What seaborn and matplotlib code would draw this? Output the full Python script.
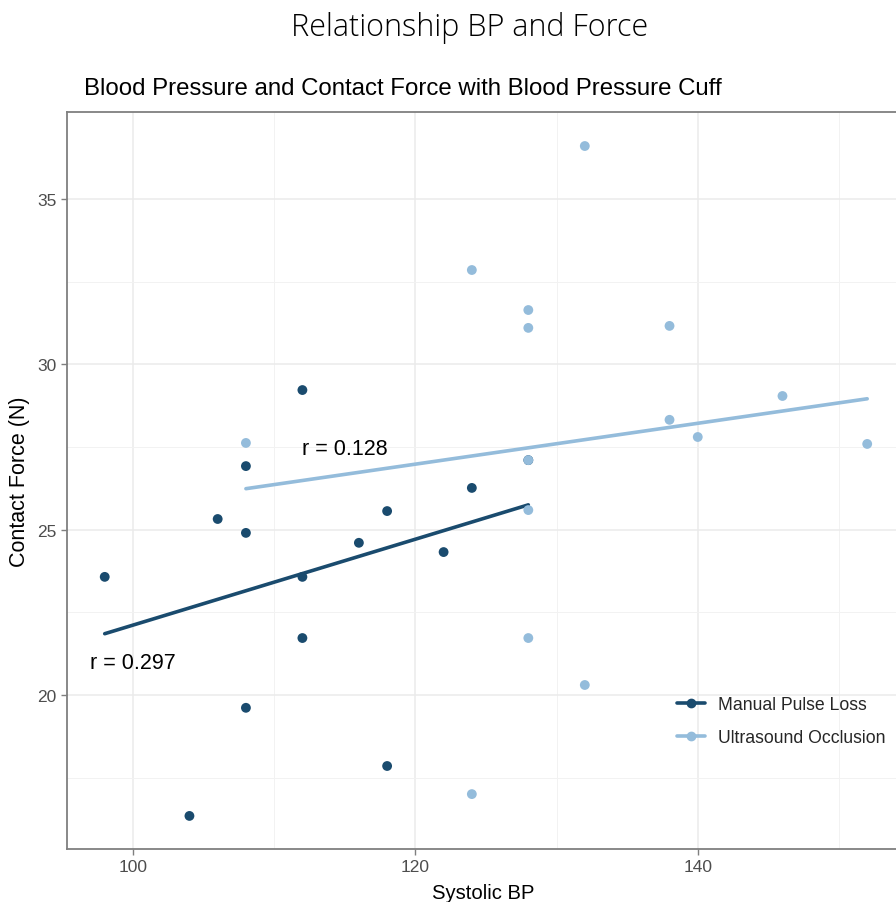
import numpy as np
import pandas as pd
import matplotlib
matplotlib.use("Agg")
import matplotlib.pyplot as plt
import seaborn as sns
from matplotlib.lines import Line2D

# Manual Pulse Loss
manual_bp = [98, 104, 106, 108, 108, 108, 112, 112, 112, 116, 118, 118, 122, 124, 128]
manual_force = [23.57, 16.34, 25.32, 26.92, 24.90, 19.61, 29.22, 23.57, 21.72, 24.60,
                25.56, 17.85, 24.32, 26.26, 27.10]

# Ultrasound Occlusion
us_bp = [108, 124, 124, 128, 128, 128, 128, 128, 132, 132, 138, 138, 140, 146, 152]
us_force = [27.62, 32.85, 17.00, 31.64, 31.10, 27.10, 25.59, 21.72, 36.60, 20.30,
            31.16, 28.32, 27.80, 29.04, 27.59]

groups = ["Manual Pulse Loss", "Ultrasound Occlusion"]
colors = {"Manual Pulse Loss": "#1a4b6e", "Ultrasound Occlusion": "#94bcdb"}

df = pd.DataFrame({
    "bp": manual_bp + us_bp,
    "force": manual_force + us_force,
    "method": [groups[0]] * len(manual_bp) + [groups[1]] * len(us_bp),
})

sns.set_theme(style="white")
plt.rcParams["font.family"] = ["Liberation Sans", "DejaVu Sans"]

fig = plt.figure(figsize=(8.96, 9.03), dpi=100)
ax = fig.add_axes([0.0748, 0.0587, 0.93, 0.8162])

# panel runs off the right edge of the picture
ax.set_xlim(95.33, 95.33 + 0.93 * 896 / 14.12)
ax.set_ylim(15.34, 37.63)
ax.set_xticks([100, 120, 140])
ax.set_xticks([110, 130, 150], minor=True)
ax.set_yticks([20, 25, 30, 35])
ax.set_yticks([17.5, 22.5, 27.5, 32.5], minor=True)
ax.grid(True, which="major", color="#ebebeb", linewidth=1.1)
ax.grid(True, which="minor", color="#f2f2f2", linewidth=0.7)
ax.set_axisbelow(True)

for name in groups:
    sub = df[df["method"] == name]
    sns.regplot(data=sub, x="bp", y="force", ci=None, scatter=False, ax=ax,
                line_kws={"color": colors[name], "linewidth": 2.6})
for name in groups:
    sub = df[df["method"] == name]
    sns.scatterplot(data=sub, x="bp", y="force", color=colors[name], s=50,
                    edgecolor="none", ax=ax, zorder=3)

ax.text(96.95, 20.97, "r = 0.297", fontsize=15.5, va="center", ha="left", color="black")
ax.text(112.0, 27.44, "r = 0.128", fontsize=15.5, va="center", ha="left", color="black")

for s in ["left", "bottom", "top"]:
    ax.spines[s].set_color("#7f7f7f")
    ax.spines[s].set_linewidth(1.3)
ax.spines["right"].set_visible(False)

ax.tick_params(axis="both", which="major", length=4, width=1, color="#7f7f7f",
               labelsize=12.5, labelcolor="#4d4d4d", bottom=True, left=True)
ax.tick_params(axis="both", which="minor", length=0)

ax.set_xlabel("Systolic BP", fontsize=14.6, color="black", labelpad=6)
ax.set_ylabel("Contact Force (N)", fontsize=15.5, color="black", labelpad=5)

handles = [Line2D([0], [0], color=colors[g], linewidth=2.6, marker="o", markersize=6)
           for g in groups]
ax.legend(handles, groups, loc="upper left", bbox_to_anchor=(0.732, 0.207),
          frameon=False, fontsize=12.7, handlelength=1.6, handletextpad=0.75,
          labelspacing=0.9, borderpad=0, borderaxespad=0)

fig.text(0.0937, 0.901, "Blood Pressure and Contact Force with Blood Pressure Cuff",
         fontsize=17.3, ha="left", va="center", color="black")
fig.text(0.524, 0.969, "Relationship BP and Force", fontsize=22, ha="center",
         va="center", color="black", family=["Open Sans", "DejaVu Sans"],
         fontweight="light")

fig.savefig("out.png", dpi=100)
